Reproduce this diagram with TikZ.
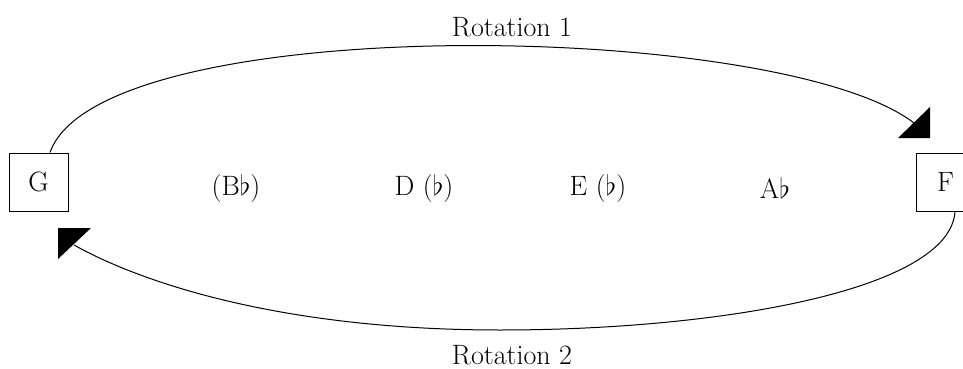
\RequirePackage{fix-cm}
\documentclass[tikz,border=0pt]{standalone}
\begin{document}
\begin{tikzpicture}[x=1pt,y=-1pt,
  every node/.style={font=\fontsize{28}{32}\selectfont, inner sep=0pt},
  tonebox/.style={draw, line width=1pt, minimum width=59pt, minimum height=58pt},
  rot/.style={line width=1pt},
  tip/.style={fill=black}]
\useasboundingbox (0,0) rectangle (963,369);
\node[tonebox] (G) at (38.5,182) {G};
\node[tonebox] (F) at (945.5,182) {F};
\node (bb) at (236,188) {(B$\flat$)};
\node (d) at (424,188) {D ($\flat$)};
\node (e) at (598,188) {E ($\flat$)};
\node (ab) at (775,188) {A$\flat$};
\node (r1) at (512,27) {Rotation 1};
\node (r2) at (512,355) {Rotation 2};
\coordinate (t1) at (914,123);
\coordinate (t2) at (74,245);
\draw[rot] ([xshift=11.5pt]G.north) .. controls (100,10) and (780,20) .. (t1);
\draw[rot] ([xshift=9.5pt]F.south) .. controls (950,290) and (720,330) .. (500,330)
  .. controls (280,330) and (140,282) .. (t2);
\fill[tip] (930,138) -- (898,138) -- (930,107) -- cycle;
\fill[tip] (58,228) -- (91,228) -- (58,259) -- cycle;
\end{tikzpicture}
\end{document}
